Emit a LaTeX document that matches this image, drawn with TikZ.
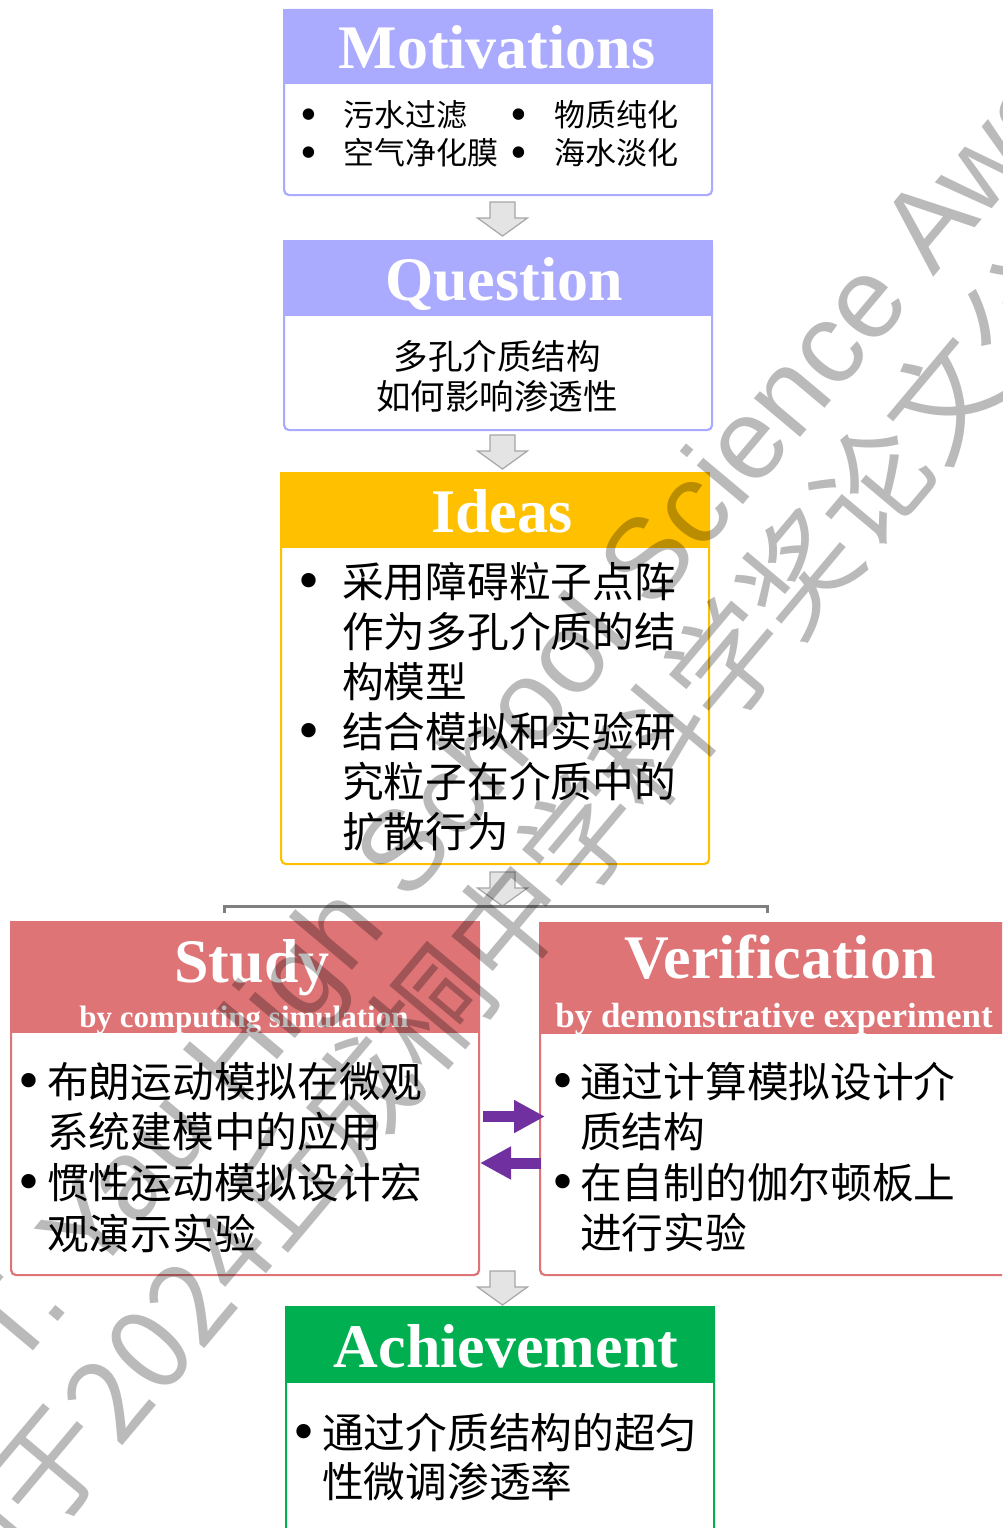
\documentclass[tikz,border=0pt]{standalone}
\usepackage{fontspec}
\setmainfont{Liberation Serif}
\newfontfamily\cjkfont{Noto Sans CJK SC}
\newfontfamily\wmfont{Liberation Sans}
\usetikzlibrary{arrows.meta,calc}
\definecolor{hblue}{HTML}{AAAAFF}
\definecolor{hgold}{HTML}{FFC000}
\definecolor{hred}{HTML}{DE7476}
\definecolor{hgreen}{HTML}{00B050}
\definecolor{apurple}{HTML}{7030A0}
\definecolor{agray}{HTML}{E4E4E4}
\definecolor{agrayline}{HTML}{A6A6A6}
\definecolor{brgray}{HTML}{7F7F7F}
\newcommand\cjksize[1]{\cjkfont\fontsize{#1}{#1}\selectfont}
\tikzset{
  framebox/.style={draw=#1, line width=2.2pt, rounded corners=5pt, fill=white, anchor=north west, inner sep=0pt},
  headtitle/.style={anchor=base, inner sep=0pt, text=white, font=\bfseries\fontsize{62}{62}\selectfont},
  subtitle/.style={anchor=base, inner sep=0pt, text=white, font=\bfseries\fontsize{#1}{#1}\selectfont},
  txt/.style={anchor=west, inner sep=0pt, font=\cjksize{#1}, execute at begin node={\rule[-0.08em]{0pt}{0.92em}}},
  txtc/.style={txt=#1, anchor=center},
  bul/.style={inner sep=0pt, yshift=-5pt, font=\fontsize{#1}{#1}\selectfont},
  bracketline/.style={draw=brgray, line width=3pt},
  parrow/.style={draw=apurple, line width=11pt, -{Triangle[length=31pt,width=31pt]}},
  wm/.style={inner sep=0pt, text=black, text opacity=0.27, rotate=50, anchor=base west},
  downarr/.pic={\draw[fill=agray, draw=agrayline, line width=1.2pt, line join=miter]
     (-12.5,0) -- (12.5,0) -- (12.5,16) -- (25,16) -- (0,34) -- (-25,16) -- (-12.5,16) -- cycle;}
}
\begin{document}
\begin{tikzpicture}[x=1pt,y=-1pt]
\useasboundingbox (0,0) rectangle (1002,1528);
\clip (0,0) rectangle (1002,1528);
\fill[white] (0,0) rectangle (1002,1528);

% Motivations
\node[framebox=hblue, minimum width=428pt, minimum height=185pt] (mot) at (283,9) {};
\fill[hblue] (mot.north west) rectangle ($(mot.north east)+(0,75)$);
\node[headtitle] (motT) at (497,68) {Motivations};
\node[bul=48] (motb1) at (309,115) {•};
\node[txt=31] (mot1) at (343,115) {污水过滤};
\node[bul=48] (motb2) at (519,115) {•};
\node[txt=31] (mot2) at (554,115) {物质纯化};
\node[bul=48] (motb3) at (309,153) {•};
\node[txt=31] (mot3) at (343,153) {空气净化膜};
\node[bul=48] (motb4) at (519,153) {•};
\node[txt=31] (mot4) at (554,153) {海水淡化};

% Question
\node[framebox=hblue, minimum width=428pt, minimum height=189pt] (que) at (283,240) {};
\fill[hblue] (que.north west) rectangle ($(que.north east)+(0,76)$);
\node[headtitle] (queT) at (504,300) {Question};
\node[txtc=34.5] (que1) at (497,356) {多孔介质结构};
\node[txtc=34.5] (que2) at (497,396) {如何影响渗透性};

% Ideas
\node[framebox=hgold, minimum width=428pt, minimum height=391pt] (ide) at (280,472) {};
\fill[hgold] (ide.north west) rectangle ($(ide.north east)+(0,76)$);
\node[headtitle] (ideT) at (502,532) {Ideas};
\node[bul=60] (ideb1) at (309,582) {•};
\node[bul=60] (ideb2) at (309,732) {•};
\node[txt=41.7] (ide1) at (342,582) {采用障碍粒子点阵};
\node[txt=41.7] (ide2) at (342,632) {作为多孔介质的结};
\node[txt=41.7] (ide3) at (342,682) {构模型};
\node[txt=41.7] (ide4) at (342,732) {结合模拟和实验研};
\node[txt=41.7] (ide5) at (342,782) {究粒子在介质中的};
\node[txt=41.7] (ide6) at (342,832) {扩散行为};

% Study
\node[framebox=hred, minimum width=468pt, minimum height=353pt] (stu) at (10,921) {};
\fill[hred] (stu.north west) rectangle ($(stu.north east)+(0,112)$);
\node[headtitle] (stuT) at (252,982) {Study};
\node[subtitle=31] (stuS) at (244,1027) {by computing simulation};
\node[bul=60] (stub1) at (29,1082) {•};
\node[bul=60] (stub2) at (29,1183) {•};
\node[txt=41.7] (stu1) at (47,1082) {布朗运动模拟在微观};
\node[txt=41.7] (stu2) at (47,1132) {系统建模中的应用};
\node[txt=41.7] (stu3) at (47,1183) {惯性运动模拟设计宏};
\node[txt=41.7] (stu4) at (47,1233) {观演示实验};

% Verification
\node[framebox=hred, minimum width=470pt, minimum height=352pt] (ver) at (539,922) {};
\fill[hred] (ver.north west) rectangle ($(ver.north east)+(0,112)$);
\node[headtitle] (verT) at (780,978) {Verification};
\node[subtitle=35] (verS) at (774,1027) {by demonstrative experiment};
\node[bul=60] (verb1) at (563,1082) {•};
\node[bul=60] (verb2) at (563,1183) {•};
\node[txt=41.7] (ver1) at (580,1082) {通过计算模拟设计介};
\node[txt=41.7] (ver2) at (580,1132) {质结构};
\node[txt=41.7] (ver3) at (580,1183) {在自制的伽尔顿板上};
\node[txt=41.7] (ver4) at (580,1233) {进行实验};

% Achievement
\node[framebox=hgreen, minimum width=428pt, minimum height=240pt] (ach) at (285,1306) {};
\fill[hgreen] (ach.north west) rectangle ($(ach.north east)+(0,77)$);
\node[headtitle] (achT) at (506,1367) {Achievement};
\node[bul=60] (achb1) at (304,1433) {•};
\node[txt=41.7] (ach1) at (322,1433) {通过介质结构的超匀};
\node[txt=41.7] (ach2) at (322,1482) {性微调渗透率};

% gray block arrows
\coordinate (g1) at (502.5,202);
\coordinate (g2) at (502.5,435);
\coordinate (g3) at (502.5,872);
\coordinate (g4) at (502.5,1271);
\pic at (g1) {downarr};
\pic at (g2) {downarr};
\pic at (g3) {downarr};
\pic at (g4) {downarr};

% bracket
\coordinate (brl) at (224,913);
\coordinate (brr) at (767,913);
\draw[bracketline] (brl) -- ++(0,-7) -- ($(brr)+(0,-7)$) -- (brr);

% purple arrows
\coordinate (p1s) at (483,1116.5);
\coordinate (p1e) at (545,1116.5);
\coordinate (p2s) at (541,1163);
\coordinate (p2e) at (480,1163);
\draw[parrow] (p1s) -- (p1e);
\draw[parrow] (p2s) -- (p2e);

% watermark
\node[wm, font=\wmfont\fontsize{114}{114}\selectfont] (wm1) at (-79,1485) {S.-T. Yau High School Science Award};
\node[wm, font=\cjkfont\fontsize{114}{114}\selectfont] (wm2) at (-27,1624) {用于2024丘成桐中学科学奖论文公示};
\end{tikzpicture}
\end{document}
